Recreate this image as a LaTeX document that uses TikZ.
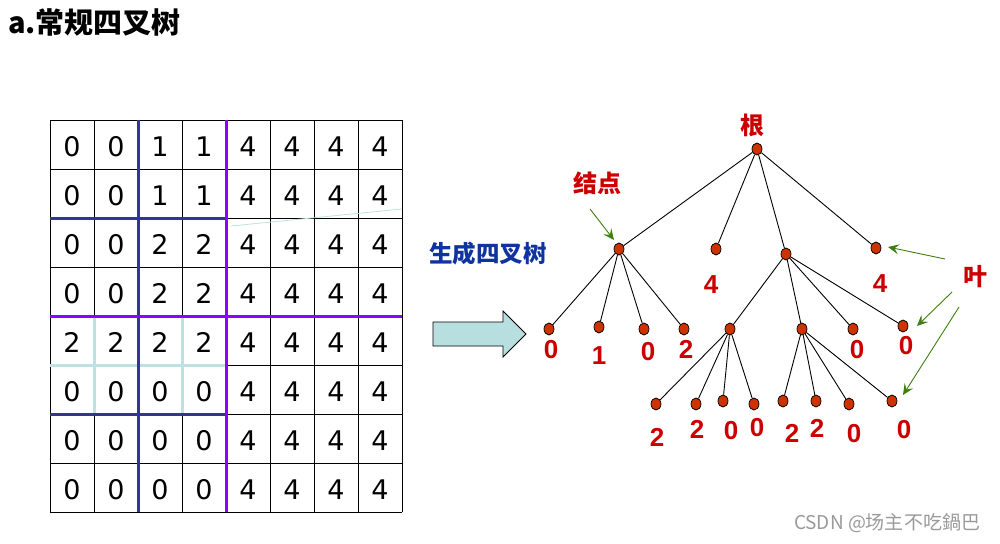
\documentclass[tikz,border=0pt]{standalone}
\usepackage{fontspec}
\setmainfont{DejaVu Sans}
\newfontfamily\cjk{Noto Sans CJK SC}
\newfontfamily\lab{Liberation Sans}
\usetikzlibrary{shapes.geometric,arrows.meta}
\definecolor{qblue}{HTML}{333399}
\definecolor{qpurple}{HTML}{8F00FF}
\definecolor{qcyan}{HTML}{BEE2E2}
\definecolor{arrfill}{HTML}{B8DFE0}
\definecolor{titleblue}{HTML}{10349F}
\definecolor{labred}{HTML}{CC0000}
\definecolor{nodefill}{HTML}{CC3300}
\definecolor{arrgreen}{HTML}{3F7F0F}
\definecolor{wmgray}{HTML}{9A9A9A}
\tikzset{
  gridline/.style={draw=black, line width=0.9pt},
  qline/.style={line width=3pt},
  digit/.style={font=\fontsize{27}{27}\selectfont, inner sep=0pt},
  tn/.style={ellipse, draw=black, line width=0.7pt, fill=nodefill, minimum width=10pt, minimum height=12pt, inner sep=0pt},
  lbl/.style={font=\lab\bfseries\fontsize{26}{26}\selectfont, text=labred, inner sep=0pt},
  cnlbl/.style={font=\cjk\bfseries\fontsize{24}{24}\selectfont, text=labred, inner sep=0pt},
  treeedge/.style={draw=black, line width=0.9pt},
  garrow/.style={draw=arrgreen, line width=0.9pt, -{Stealth[length=11pt,width=10pt,inset=4.5pt]}}
}
\begin{document}
\begin{tikzpicture}[x=1pt,y=-1pt]
\useasboundingbox (0,0) rectangle (1000,543);
\fill[white] (0,0) rectangle (1000,543);
% title
\node[anchor=west, inner sep=0pt, font=\cjk\bfseries\fontsize{29}{29}\selectfont] (title) at (8,22) {a.常规四叉树};
% grid
\foreach \i in {0,...,8} {
  \draw[gridline] ({50+44*\i},120) -- ({50+44*\i},512);
  \draw[gridline] (50,{120+49*\i}) -- (402,{120+49*\i});
}
% faint artefact line
\draw[qcyan, line width=0.8pt] (231,226) -- (402,209);
% quadrant lines
\draw[qline, qcyan] (94,316) -- (94,414);
\draw[qline, qcyan] (182,316) -- (182,414);
\draw[qline, qcyan] (50,365) -- (226,365);
\draw[qline, qblue] (138,120) -- (138,512);
\draw[qline, qblue] (50,218) -- (226,218);
\draw[qline, qblue] (50,414) -- (226,414);
\draw[qline, qpurple] (226,120) -- (226,512);
\draw[qline, qpurple] (50,316) -- (402,316);
% digits
\foreach \r/\vals in {1/{0,0,1,1,4,4,4,4},2/{0,0,1,1,4,4,4,4},3/{0,0,2,2,4,4,4,4},4/{0,0,2,2,4,4,4,4},5/{2,2,2,2,4,4,4,4},6/{0,0,0,0,4,4,4,4},7/{0,0,0,0,4,4,4,4},8/{0,0,0,0,4,4,4,4}} {
  \foreach \v [count=\c] in \vals {
    \node[digit] (g\r-\c) at ({50+44*\c-22},{120+49*\r-24.5+2}) {\v};
  }
}
% label and block arrow
\node[font=\cjk\bfseries\fontsize{23.5}{23.5}\selectfont, text=titleblue, inner sep=0pt] (gen) at (488,254) {生成四叉树};
\draw[black, line width=0.8pt, fill=arrfill] (433,322) -- (503,322) -- (503,311) -- (526,334) -- (503,357) -- (503,346) -- (433,346) -- cycle;
% tree nodes
\node[tn] (root) at (757,149) {};
\node[tn] (A) at (619,249) {};
\node[tn] (B) at (716,249) {};
\node[tn] (C) at (786,254) {};
\node[tn] (D) at (876,248) {};
\node[tn] (A1) at (549,329) {};
\node[tn] (A2) at (599,327) {};
\node[tn] (A3) at (644,329) {};
\node[tn] (A4) at (684,329) {};
\node[tn] (E) at (730,329) {};
\node[tn] (F) at (802,329) {};
\node[tn] (C3) at (853,329) {};
\node[tn] (C4) at (903,326) {};
\node[tn] (E1) at (656,404) {};
\node[tn] (E2) at (696,404) {};
\node[tn] (E3) at (723,401) {};
\node[tn] (E4) at (754,404) {};
\node[tn] (F1) at (783,401) {};
\node[tn] (F2) at (816,401) {};
\node[tn] (F3) at (849,404) {};
\node[tn] (F4) at (892,401) {};
% edges
\foreach \p/\ch in {root/A,root/B,root/C,root/D,A/A1,A/A2,A/A3,A/A4,C/E,C/F,C/C3,C/C4,E/E1,E/E2,E/E3,E/E4,F/F1,F/F2,F/F3,F/F4} {
  \draw[treeedge] (\p) -- (\ch);
}
% value labels
\node[lbl] (lB) at (711,285) {4};
\node[lbl] (lD) at (880,284) {4};
\node[lbl] (lA1) at (551,350) {0};
\node[lbl] (lA2) at (599,356) {1};
\node[lbl] (lA3) at (648,352) {0};
\node[lbl] (lA4) at (686,349) {2};
\node[lbl] (lC3) at (857,350) {0};
\node[lbl] (lC4) at (906,346) {0};
\node[lbl] (lE1) at (657,437) {2};
\node[lbl] (lE2) at (697,429) {2};
\node[lbl] (lE3) at (731,431) {0};
\node[lbl] (lE4) at (757,428) {0};
\node[lbl] (lF1) at (792,433) {2};
\node[lbl] (lF2) at (817,428) {2};
\node[lbl] (lF3) at (854,434) {0};
\node[lbl] (lF4) at (904,430) {0};
% chinese labels
\node[cnlbl] (lroot) at (752,125) {根};
\node[cnlbl] (lnode) at (597,183) {结点};
\node[cnlbl] (lleaf) at (975,277) {叶};
% green arrows
\coordinate (n0) at (590,209); \coordinate (n1) at (614,240);
\coordinate (y0) at (945,259); \coordinate (y1) at (888,247);
\coordinate (y2) at (952,292); \coordinate (y3) at (917,326);
\coordinate (y4) at (959,307); \coordinate (y5) at (903,395);
\draw[garrow] (n0) -- (n1);
\draw[garrow] (y0) -- (y1);
\draw[garrow] (y2) -- (y3);
\draw[garrow] (y4) -- (y5);
% watermark
\node[font=\cjk\fontsize{19}{19}\selectfont, text=wmgray, inner sep=0pt] (wm) at (887,523) {CSDN @场主不吃鍋巴};
\end{tikzpicture}
\end{document}
